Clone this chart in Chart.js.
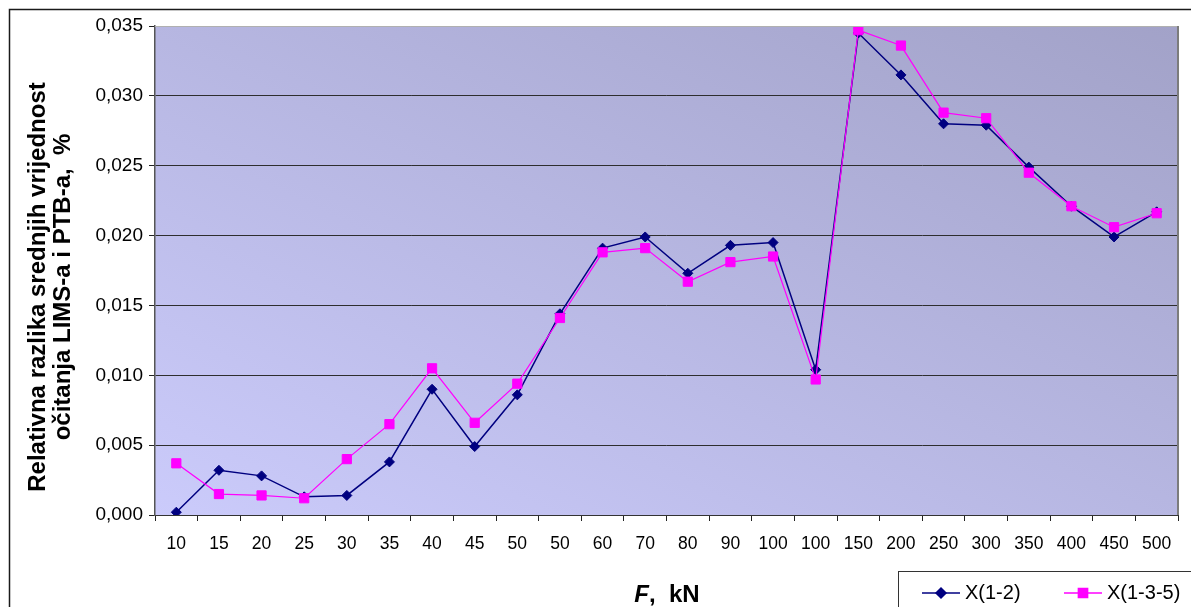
<!DOCTYPE html>
<html>
<head>
<meta charset="utf-8">
<script src="https://cdn.jsdelivr.net/npm/chart.js@4.4.1/dist/chart.umd.min.js"></script>
<style>
  html, body { margin: 0; padding: 0; background: #fff; }
  canvas { display: block; }
</style>
</head>
<body>
<canvas id="c" width="1191" height="607"></canvas>
<script>
// F, kN (two load cycles repeat 50 and 100)
const categories = ["10", "15", "20", "25", "30", "35", "40", "45", "50", "50", "60", "70",
                    "80", "90", "100", "100", "150", "200", "250", "300", "350", "400", "450", "500"];
const seriesX12 = [0.0002, 0.0032, 0.0028, 0.0013, 0.0014, 0.0038, 0.0090, 0.0049, 0.0086, 0.0144, 0.0191, 0.0199,
                   0.0173, 0.0193, 0.0195, 0.0104, 0.0345, 0.0315, 0.0280, 0.0279, 0.0249, 0.0221, 0.0199, 0.0217];
const seriesX135 = [0.0037, 0.0015, 0.0014, 0.0012, 0.0040, 0.0065, 0.0105, 0.0066, 0.0094, 0.0141, 0.0188, 0.0191,
                    0.0167, 0.0181, 0.0185, 0.0097, 0.0347, 0.0336, 0.0288, 0.0284, 0.0245, 0.0221, 0.0206, 0.0216];
const seriesNames = ["X(1-2)", "X(1-3-5)"];
const yMax = 0.035;
const yStep = 0.005;
const yTitle = ["Relativna razlika srednjih vrijednost", "očitanja LIMS-a i PTB-a,  %"];

const FONT = "'Liberation Sans', Arial, sans-serif";
const NAVY = "#000080";
const PINK = "#ff00ff";

const frame = {
  id: "frame",
  beforeDraw(chart) {
    const { ctx, chartArea: a } = chart;
    ctx.save();
    ctx.fillStyle = "#fff";
    ctx.fillRect(0, 0, chart.width, chart.height);
    // diagonal gradient: iso-lines run along the top-left / bottom-right diagonal
    const W = a.right - a.left, H = a.bottom - a.top;
    const k = 2 / (H / W + W / H);
    const g = ctx.createLinearGradient(a.left, a.bottom, a.left + H * k, a.bottom - W * k);
    g.addColorStop(0, "#cbcbfb");
    g.addColorStop(1, "#a2a2c8");
    ctx.fillStyle = g;
    ctx.fillRect(a.left, a.top, W, H);
    // outer chart border
    ctx.strokeStyle = "#1a1a1a";
    ctx.lineWidth = 1.5;
    ctx.beginPath();
    ctx.moveTo(9.5, chart.height);
    ctx.lineTo(9.5, 9.5);
    ctx.lineTo(chart.width, 9.5);
    ctx.stroke();
    ctx.restore();
  },
  afterDraw(chart) {
    const { ctx, chartArea: a } = chart;
    ctx.save();
    // plot area top / right edge
    ctx.strokeStyle = "#b0b0b0";
    ctx.lineWidth = 1;
    ctx.beginPath();
    ctx.moveTo(a.left, a.top + 0.5);
    ctx.lineTo(a.right, a.top + 0.5);
    ctx.stroke();
    ctx.strokeStyle = "#7c7c7c";
    ctx.lineWidth = 2;
    ctx.beginPath();
    ctx.moveTo(a.right, a.top);
    ctx.lineTo(a.right, a.bottom);
    ctx.stroke();

    // y axis title
    ctx.fillStyle = "#000";
    ctx.font = "bold 24px " + FONT;
    ctx.textAlign = "center";
    ctx.textBaseline = "middle";
    ctx.translate(0, 287);
    ctx.rotate(-Math.PI / 2);
    ctx.fillText(yTitle[0], 0, 38);
    ctx.fillText(yTitle[1], 0, 63);
    ctx.setTransform(1, 0, 0, 1, 0, 0);

    // x axis title: F,  kN (F italic)
    ctx.textAlign = "left";
    ctx.textBaseline = "alphabetic";
    ctx.font = "italic bold 24px " + FONT;
    const wF = ctx.measureText("F").width;
    ctx.font = "bold 24px " + FONT;
    const rest = ",  kN";
    const wR = ctx.measureText(rest).width;
    const x0 = 667 - (wF + wR) / 2;
    ctx.font = "italic bold 24px " + FONT;
    ctx.fillText("F", x0, 602);
    ctx.font = "bold 24px " + FONT;
    ctx.fillText(rest, x0 + wF, 602);

    // legend box
    ctx.fillStyle = "#fff";
    ctx.fillRect(898.5, 571.5, chart.width, 40);
    ctx.strokeStyle = "#333";
    ctx.lineWidth = 1;
    ctx.strokeRect(898.5, 571.5, chart.width, 40);
    const items = [
      { name: seriesNames[0], color: NAVY, x: 922, style: "rectRot", r: 5 },
      { name: seriesNames[1], color: PINK, x: 1064, style: "rect", r: 6.5 }
    ];
    const ly = 593;
    items.forEach(it => {
      ctx.strokeStyle = it.color;
      ctx.lineWidth = 1.5;
      ctx.beginPath();
      ctx.moveTo(it.x, ly);
      ctx.lineTo(it.x + 38, ly);
      ctx.stroke();
      ctx.fillStyle = it.color;
      Chart.helpers.drawPoint(ctx, { pointStyle: it.style, radius: it.r, borderWidth: 1, rotation: 0 }, it.x + 19, ly);
      ctx.fill();
      ctx.fillStyle = "#000";
      ctx.font = "20px " + FONT;
      ctx.textBaseline = "middle";
      ctx.fillText(it.name, it.x + 43, ly);
    });
    ctx.restore();
  }
};

new Chart(document.getElementById("c"), {
  type: "line",
  data: {
    labels: categories,
    datasets: [
      {
        label: seriesNames[0],
        data: seriesX12,
        order: 1,
        borderColor: NAVY,
        backgroundColor: NAVY,
        borderWidth: 1.5,
        pointStyle: "rectRot",
        pointRadius: 5,
        pointBorderWidth: 1,
        tension: 0
      },
      {
        label: seriesNames[1],
        data: seriesX135,
        order: 0,
        borderColor: PINK,
        backgroundColor: PINK,
        borderWidth: 1.2,
        pointStyle: "rect",
        pointRadius: 6.5,
        pointBorderWidth: 1,
        tension: 0
      }
    ]
  },
  options: {
    responsive: false,
    animation: false,
    devicePixelRatio: 1,
    layout: { padding: { left: 0, top: 26, right: 13, bottom: 0 } },
    plugins: { legend: { display: false }, tooltip: { enabled: false } },
    scales: {
      x: {
        offset: true,
        grid: { offset: true, drawOnChartArea: false, drawTicks: true, tickLength: 6, color: "#222" },
        border: { color: "#333", width: 1 },
        ticks: { color: "#000", font: { family: FONT, size: 17.5 }, padding: 13, maxRotation: 0, autoSkip: false },
        afterFit(s) { s.height = 92; }
      },
      y: {
        min: 0,
        max: yMax,
        ticks: {
          stepSize: yStep,
          color: "#000",
          font: { family: FONT, size: 19 },
          padding: 6,
          callback: v => v.toFixed(3).replace(".", ",")
        },
        grid: {
          color: c => (c.tick && c.tick.value > yMax - 1e-9) ? "rgba(0,0,0,0)" : "#2e2e2e",
          tickColor: "#222",
          tickLength: 6,
          lineWidth: 1
        },
        border: { color: "#555", width: 1.5 },
        afterFit(s) { s.width = 155; }
      }
    }
  },
  plugins: [frame]
});
</script>
</body>
</html>
